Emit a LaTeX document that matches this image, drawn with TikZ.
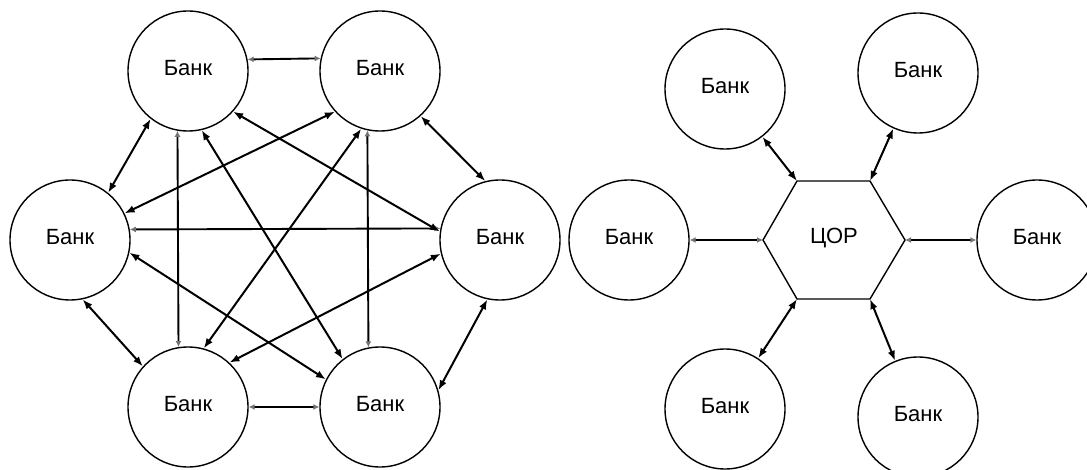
\documentclass[tikz,border=0pt]{standalone}
\usepackage{fontspec}
\setmainfont{Liberation Sans}
\usetikzlibrary{arrows.meta}
\tikzset{
  bank/.style={circle, draw, line width=1.4pt, minimum size=120pt, inner sep=0pt},
  txt/.style={font=\fontsize{22}{26}\selectfont},
  banklabel/.style={label={[txt,yshift=3pt]center:Банк}},
  link/.style={line width=2pt, {Latex[length=10pt,width=7.5pt]}-{Latex[length=10pt,width=7.5pt]}},
  straight/.style={line width=1.9pt, {Latex[length=6pt,width=6pt,color=black!55]}-{Latex[length=6pt,width=6pt,color=black!55]}},
  hexline/.style={line width=1.4pt, line join=miter}
}
\begin{document}
\begin{tikzpicture}[x=1pt, y=-1pt]
  \useasboundingbox (0,0) rectangle (1087,470);

  % ---- mesh of six banks ----
  \node[bank, banklabel] (tl) at (188,71)  {};
  \node[bank, banklabel] (tr) at (380,71)  {};
  \node[bank, banklabel] (l)  at (70,240)  {};
  \node[bank, banklabel] (r)  at (500,240) {};
  \node[bank, banklabel] (bl) at (188,407) {};
  \node[bank, banklabel] (br) at (380,407) {};

  % horizontal and vertical links
  \draw[straight] (tl.11.5)  -- (tr.168.5);
  \draw[straight] (l.10.6)   -- (r.169.4);
  \draw[straight] (bl.0)     -- (br.180);
  \draw[straight] (tl.260)   -- (bl.99.6);
  \draw[straight] (tr.258.5) -- (br.101.5);

  % diagonal links
  \draw[link] (tl.232) -- (l.51);
  \draw[link] (tl.283) -- (br.128);
  \draw[link] (tl.318) -- (r.172);
  \draw[link] (tr.222) -- (l.26);
  \draw[link] (tr.252) -- (bl.75);
  \draw[link] (tr.312) -- (r.104);
  \draw[link] (l.348)  -- (br.153);
  \draw[link] (l.282)  -- (bl.138);
  \draw[link] (r.193.4) -- (bl.47.8);
  \draw[link] (r.258)  -- (br.16.4);

  % ---- star around the clearing centre ----
  \coordinate (hl)  at (763,240);
  \coordinate (htl) at (797,181);
  \coordinate (htr) at (870,181);
  \coordinate (hr)  at (905,240);
  \coordinate (hbr) at (870,299);
  \coordinate (hbl) at (797,299);
  \draw[hexline] (hl) -- (htl) -- (htr) -- (hr) -- (hbr) -- (hbl) -- cycle;
  \node[txt] (cor) at (834,238) {ЦОР};

  \node[bank, banklabel] (a) at (725,89)   {};
  \node[bank, banklabel] (b) at (918,73)   {};
  \node[bank, banklabel] (c) at (629,240)  {};
  \node[bank, banklabel] (d) at (1037,240) {};
  \node[bank, banklabel] (e) at (725,409)  {};
  \node[bank, banklabel] (f) at (918,417)  {};

  \draw[link] (a) -- (htl);
  \draw[link] (b) -- (htr);
  \draw[link] (e) -- (hbl);
  \draw[link] (f) -- (hbr);
  \draw[straight] (c) -- (hl);
  \draw[straight] (hr) -- (d);
\end{tikzpicture}
\end{document}
